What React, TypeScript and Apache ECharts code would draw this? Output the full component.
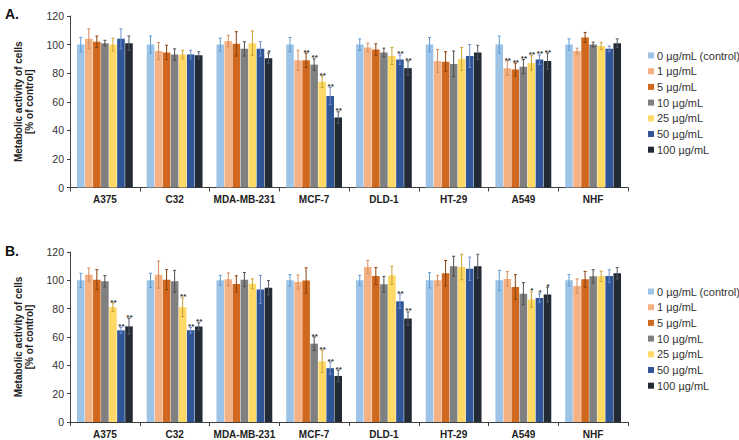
import React, { useEffect, useRef } from "react";
import * as echarts from "echarts";

const categories = ["A375", "C32", "MDA-MB-231", "MCF-7", "DLD-1", "HT-29", "A549", "NHF"];
const concentrations = [
  "0 µg/mL (control)",
  "1 µg/mL",
  "5 µg/mL",
  "10 µg/mL",
  "25 µg/mL",
  "50 µg/mL",
  "100 µg/mL",
];
const barColors = ["#9DC3E6", "#F4B183", "#D0691F", "#808080", "#FFD966", "#2F5597", "#222A35"];
const errColors = ["#5B9BD5", "#D98A5A", "#8A3F0C", "#4D4D4D", "#C9A030", "#6F8FD0", "#555B66"];

// Panel A values: rows = concentration, columns = cell line
const valuesA = [
  [100, 100, 100, 100, 100, 100, 100, 100],
  [104, 95.5, 102.5, 89, 98, 88.5, 83.5, 95.5],
  [102, 94.5, 100.5, 89, 96.5, 88, 82.5, 105],
  [101, 93, 97, 86, 94.5, 86.5, 84.5, 100],
  [100, 93, 101, 74, 92, 90, 87.2, 99],
  [104, 93, 97, 64, 89.5, 92, 89.5, 97],
  [101, 92.5, 90.5, 49, 83.5, 94.5, 88.5, 101],
];
const errorsA = [
  [5, 6, 4.5, 5, 4, 5, 6, 4],
  [7, 6, 4, 7, 3, 8, 5, 2],
  [4, 5, 8.5, 5, 4, 7, 4.5, 3.5],
  [2, 4, 5, 4, 3, 9, 5, 1.7],
  [4.5, 3, 8.5, 4, 6, 8, 5, 2.5],
  [7, 3, 5, 6, 3.3, 8, 3.3, 2],
  [5, 2.5, 3.5, 4, 5, 5, 5.5, 3],
];
const starsA = [
  ["", "", "", "", "", "", "", ""],
  ["", "", "", "", "", "", "**", ""],
  ["", "", "", "**", "", "", "**", ""],
  ["", "", "", "**", "", "", "**", ""],
  ["", "", "", "**", "", "", "**", ""],
  ["", "", "", "**", "**", "", "**", ""],
  ["", "", "*", "**", "**", "", "**", ""],
];

// Panel B values
const valuesB = [
  [100, 100, 100, 100, 100, 100, 100, 100],
  [104, 104, 100.7, 98.8, 109.4, 100, 101, 96],
  [100.5, 100.5, 97.5, 99.8, 103, 105, 95.3, 100.7],
  [99.3, 99.3, 100.5, 55.3, 97.2, 110, 90.6, 102.8],
  [81, 81, 97.6, 42.8, 103.5, 109.4, 86.4, 102.8],
  [64.7, 64.7, 93.6, 38, 85.2, 108.2, 87.5, 103],
  [67.5, 67.5, 94.8, 32.5, 73, 110, 90, 105],
];
const errorsB = [
  [5, 5, 3.5, 4, 3.5, 5.4, 7, 4],
  [4.7, 9.6, 4.5, 5, 4.7, 3.5, 5.2, 5],
  [7, 7, 5.7, 9, 6, 9, 8.7, 5.6],
  [4, 7.7, 5, 4.7, 5.6, 7, 7.8, 4.7],
  [3, 6.6, 3.5, 7.8, 6.4, 9, 5.4, 3.6],
  [2, 2, 9.9, 4.2, 5, 8.2, 3, 4.5],
  [5.5, 2.5, 5, 4, 4.7, 8.4, 5.2, 4],
];
const starsB = [
  ["", "", "", "", "", "", "", ""],
  ["", "", "", "", "", "", "", ""],
  ["", "", "", "", "", "", "", ""],
  ["", "", "", "**", "", "", "", ""],
  ["**", "**", "", "**", "", "", "*", ""],
  ["**", "**", "", "**", "**", "", "*", ""],
  ["**", "**", "", "**", "**", "", "*", ""],
];

const yTicks = [0, 20, 40, 60, 80, 100, 120];
const panelLabels = ["A.", "B."];
const yName = "Metabolic activity of cells\n[% of control]";

const FONT = "'Liberation Sans', Arial, sans-serif";
const CAT_GAP = 0.2;
const BAR_GAP = 0.06;
const N = concentrations.length;

function buildErrData(values: number[][], errors: number[][]) {
  const out: number[][] = [];
  for (let s = 0; s < values.length; s++) {
    for (let c = 0; c < categories.length; c++) {
      out.push([c, s, values[s][c], errors[s][c]]);
    }
  }
  return out;
}

function makeRender(stars: string[][]) {
  return function renderErr(params: any, api: any) {
    const c = api.value(0);
    const s = api.value(1);
    const v = api.value(2);
    const e = api.value(3);
    const star = stars[s][c];
    const catW = api.size([1, 0])[0];
    const bw = (catW * (1 - CAT_GAP)) / (N + (N - 1) * BAR_GAP);
    const total = bw * N + bw * BAR_GAP * (N - 1);
    const center = api.coord([c, v]);
    const x = center[0] - total / 2 + bw / 2 + s * bw * (1 + BAR_GAP);
    const yTop = api.coord([c, v + e])[1];
    const yBot = api.coord([c, v - e])[1];
    const col = errColors[s];
    const children: any[] = [
      { type: "line", shape: { x1: x, y1: yTop, x2: x, y2: yBot }, style: { stroke: col, lineWidth: 1 } },
      { type: "line", shape: { x1: x - 1.5, y1: yTop, x2: x + 1.5, y2: yTop }, style: { stroke: col, lineWidth: 1 } },
      { type: "line", shape: { x1: x - 1.5, y1: yBot, x2: x + 1.5, y2: yBot }, style: { stroke: col, lineWidth: 1 } },
    ];
    if (star) {
      children.push({
        type: "text",
        x: x + 0.5,
        y: yTop + 3,
        style: {
          text: star,
          fill: "#333333",
          fontFamily: FONT,
          fontWeight: "bold",
          fontSize: 8,
          align: "center",
          verticalAlign: "bottom",
        },
      });
    }
    return { type: "group", children };
  };
}

export default function App() {
  const ref = useRef<HTMLDivElement>(null);
  useEffect(() => {
    if (!ref.current) return;
    const chart = echarts.init(ref.current, null, { renderer: "svg" });
    const grids = [
      { left: 70, right: 111, top: 16, height: 171.5 },
      { left: 70, right: 111, top: 252, height: 170 },
    ];
    const xAxes = grids.map((_, i) => ({
      type: "category",
      gridIndex: i,
      data: categories,
      axisLine: { lineStyle: { color: "#404040", width: 1 } },
      axisTick: { show: true, length: 4, lineStyle: { color: "#404040" } },
      axisLabel: { color: "#222", fontFamily: FONT, fontWeight: "bold", fontSize: 10, margin: 7, interval: 0 },
    }));
    const yAxes = grids.map((_, i) => ({
      type: "value",
      gridIndex: i,
      min: 0,
      max: 120,
      interval: 20,
      name: yName,
      nameLocation: "middle",
      nameGap: 30,
      nameTextStyle: { color: "#222", fontFamily: FONT, fontWeight: "bold", fontSize: 10, lineHeight: 11.5 },
      axisLine: { show: true, lineStyle: { color: "#404040", width: 1 } },
      axisTick: { show: true, length: 3, lineStyle: { color: "#404040" } },
      splitLine: { show: false },
      axisLabel: {
        color: "#333",
        fontFamily: FONT,
        fontSize: 10.5,
        margin: 6,
        formatter: (v: number) => (yTicks.includes(v) ? String(v) : ""),
      },
    }));
    const series: any[] = [];
    [valuesA, valuesB].forEach((vals, p) => {
      vals.forEach((row, s) => {
        series.push({
          type: "bar",
          name: concentrations[s],
          xAxisIndex: p,
          yAxisIndex: p,
          data: row,
          barCategoryGap: CAT_GAP * 100 + "%",
          barGap: BAR_GAP * 100 + "%",
          itemStyle: { color: barColors[s] },
        });
      });
    });
    series.push({
      type: "custom",
      xAxisIndex: 0,
      yAxisIndex: 0,
      renderItem: makeRender(starsA),
      data: buildErrData(valuesA, errorsA),
      z: 5,
    });
    series.push({
      type: "custom",
      xAxisIndex: 1,
      yAxisIndex: 1,
      renderItem: makeRender(starsB),
      data: buildErrData(valuesB, errorsB),
      z: 5,
    });
    const legendBase = {
      orient: "vertical",
      left: 643,
      itemWidth: 6,
      itemHeight: 6,
      itemGap: 4.7,
      icon: "rect",
      textStyle: { color: "#333", fontFamily: FONT, fontSize: 11, padding: [0, 0, 0, -2] },
      data: concentrations,
      selectedMode: false,
    };
    chart.setOption({
      animation: false,
      backgroundColor: "#ffffff",
      grid: grids,
      xAxis: xAxes,
      yAxis: yAxes,
      legend: [
        { ...legendBase, top: 45 },
        { ...legendBase, top: 281 },
      ],
      graphic: panelLabels.map((t, i) => ({
        type: "text",
        left: 5,
        top: i === 0 ? 7 : 244,
        style: { text: t, fontFamily: FONT, fontWeight: "bold", fontSize: 14, fill: "#111" },
      })),
      series,
    });
    return () => chart.dispose();
  }, []);
  return <div ref={ref} style={{ position: "absolute", left: 0, top: 0, width: 739, height: 440 }} />;
}
